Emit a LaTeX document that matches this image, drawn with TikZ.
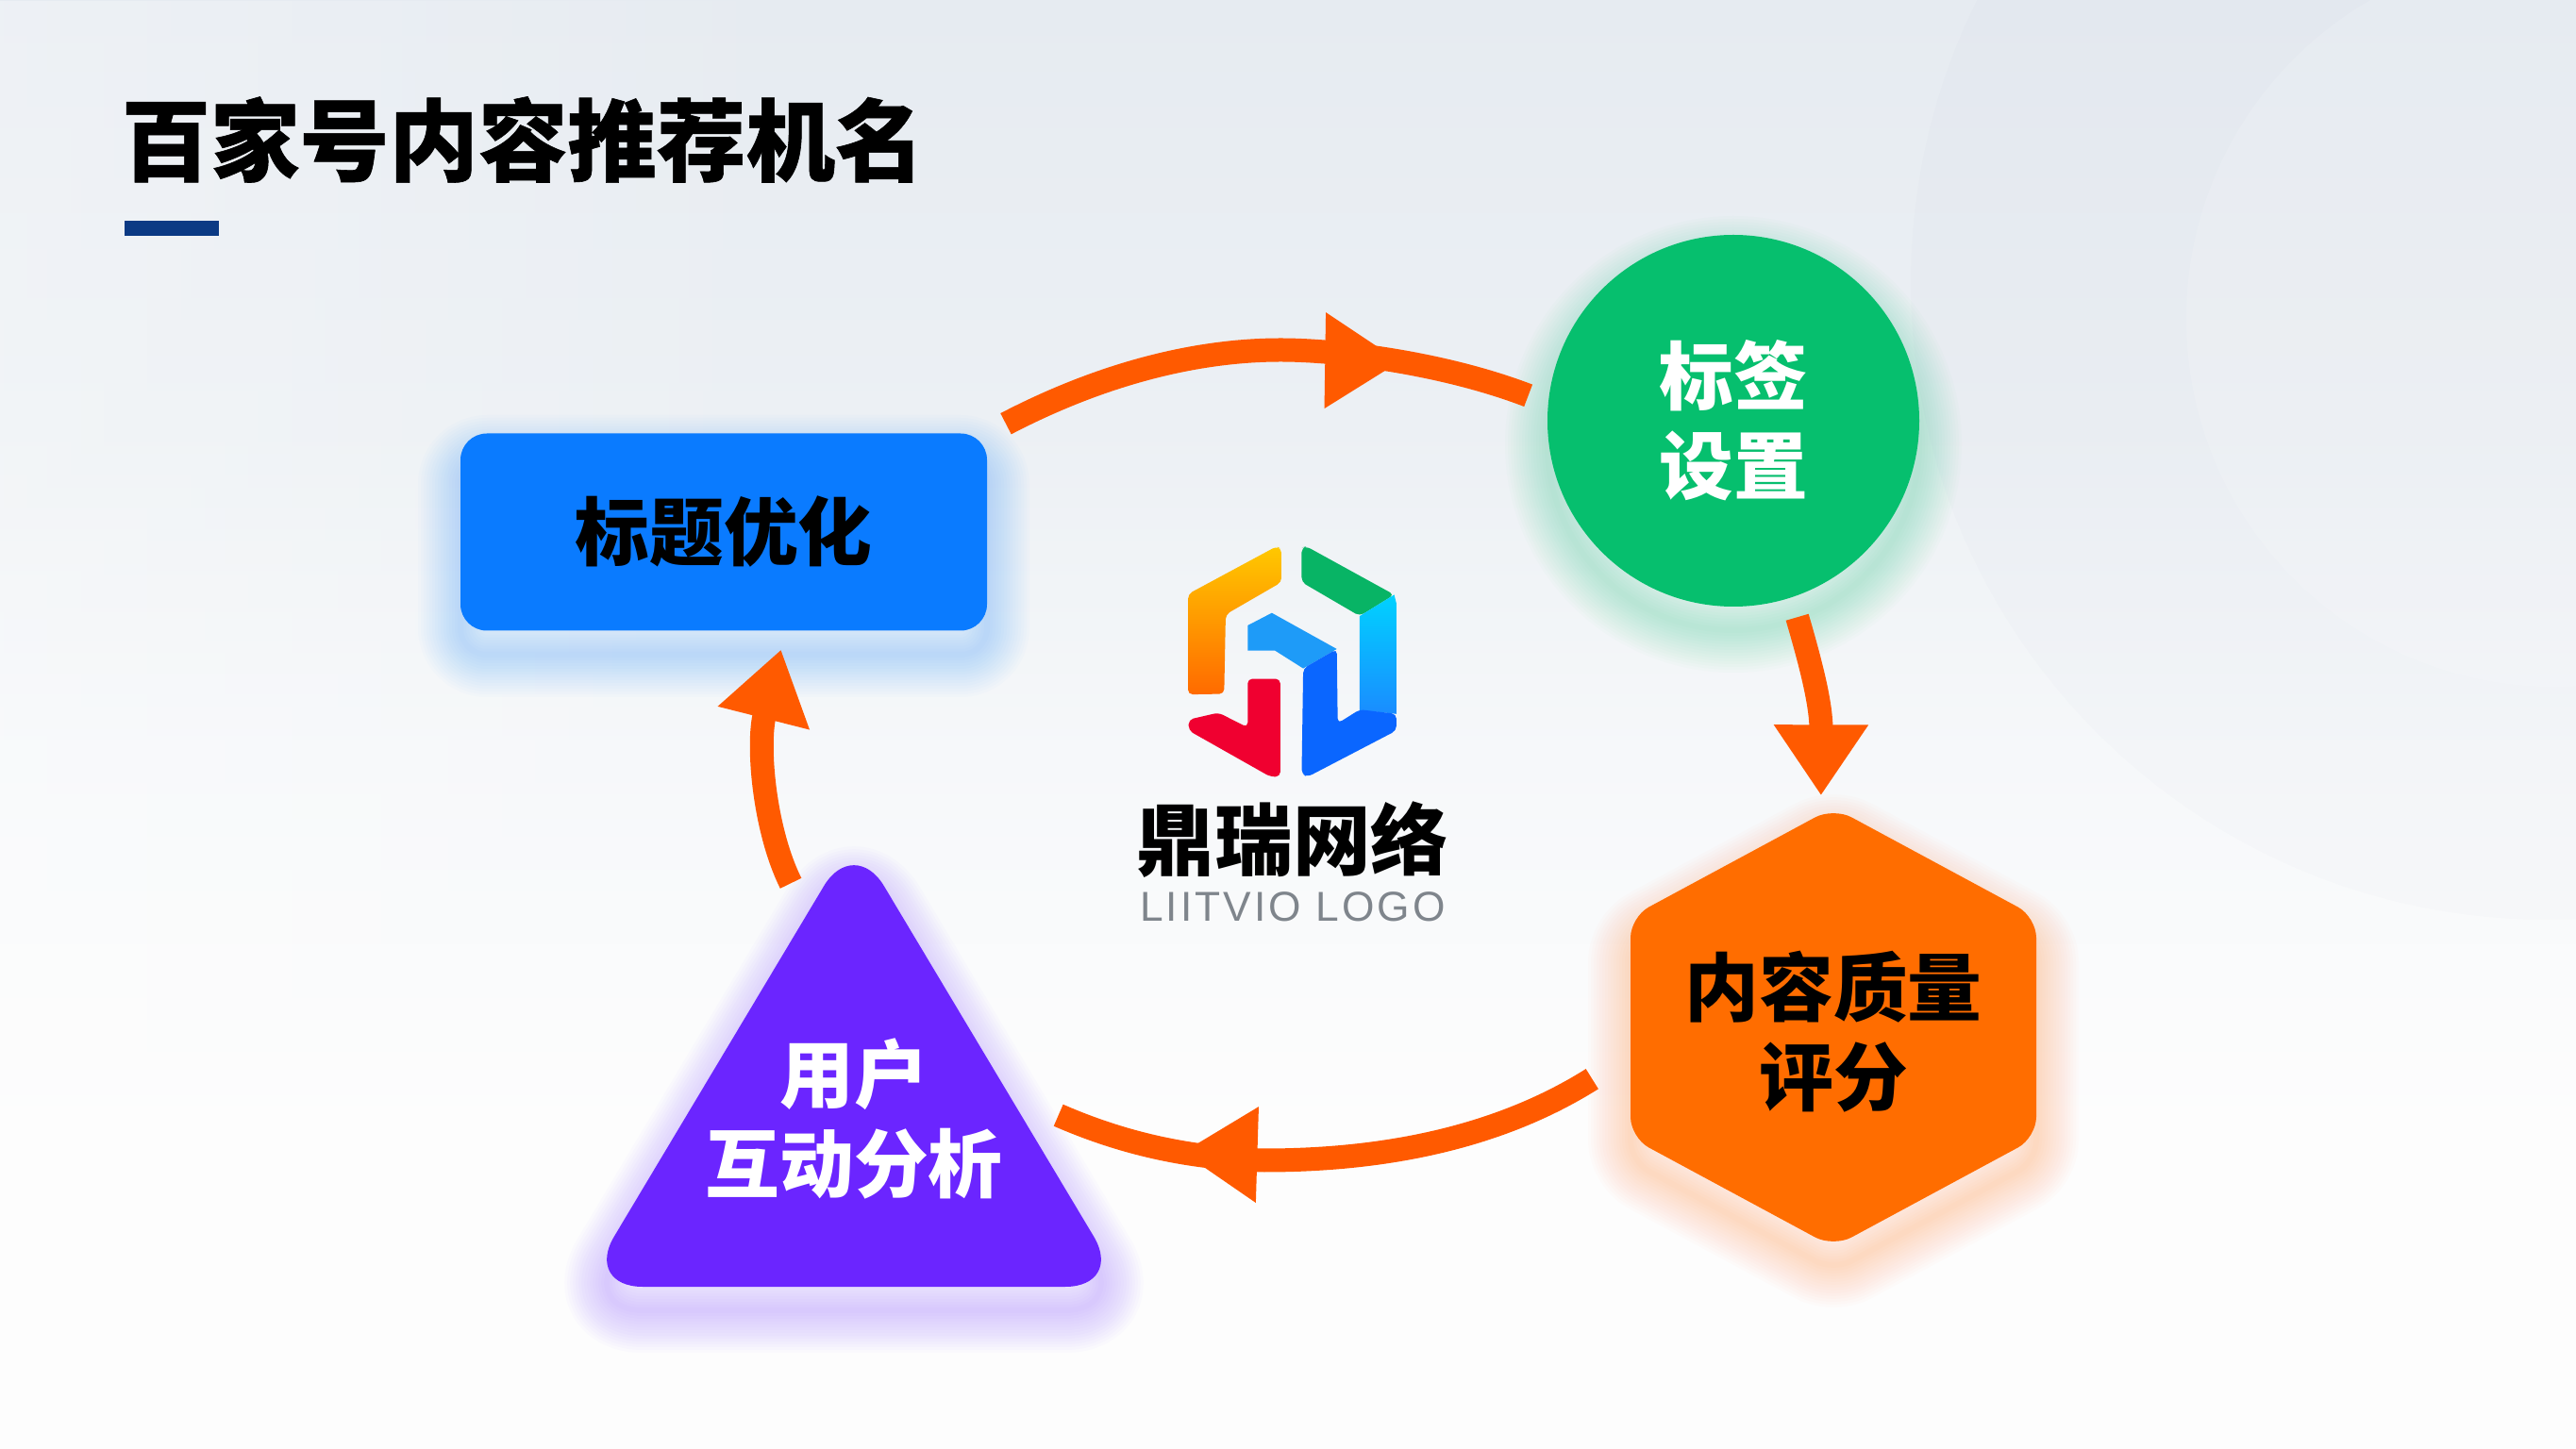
\documentclass[tikz,border=0pt]{standalone}
\usepackage{xcolor}
\usepackage{fontspec}
\usepackage{tikz}
\usetikzlibrary{shapes,arrows.meta,positioning,decorations.markings,fadings}
\setmainfont{Noto Sans CJK SC}
\newfontfamily\logolatin{Liberation Sans}[LetterSpace=7]
\definecolor{boxblue}{HTML}{0A7BFF}
\definecolor{tagggreen}{HTML}{06BF6E}
\definecolor{scoreorange}{HTML}{FF6D00}
\definecolor{userviolet}{HTML}{6B25FF}
\definecolor{flowred}{HTML}{FF5A00}
\definecolor{barnavy}{HTML}{0B3A84}
\definecolor{bgtop}{HTML}{E6EBF1}
\definecolor{bgupper}{HTML}{ECF0F4}
\definecolor{bgmid}{HTML}{F6F8FA}
\definecolor{bglow}{HTML}{FDFDFD}
\definecolor{logoyellow}{HTML}{FFC800}
\definecolor{logoorange}{HTML}{FF6A00}
\definecolor{logogreen}{HTML}{08B465}
\definecolor{logocyan}{HTML}{00D2FF}
\definecolor{logosky}{HTML}{1A8CFF}
\definecolor{logolight}{HTML}{1E9BF8}
\definecolor{logoblue}{HTML}{0A66FF}
\definecolor{logored}{HTML}{F00030}
\definecolor{logogray}{HTML}{7F858C}
\pgfdeclareverticalshading{pagebg}{100bp}{color(0bp)=(bglow); color(25bp)=(bglow); color(35.9bp)=(bglow); color(48.9bp)=(bgmid); color(60.3bp)=(bgupper); color(75bp)=(bgtop); color(100bp)=(bgtop)}
\newcommand{\glowpath}[2]{\foreach \w in {.06,.12,...,.9}{\draw[#1,opacity=.014,line width=\w cm,line join=round,yshift=-.25cm] #2;}}

\begin{document}
\begin{tikzpicture}[
    stagelabel/.style={font=\fontsize{22.4}{27}\selectfont\bfseries, align=center, inner sep=0pt},
    stagebox/.style={stagelabel, rectangle, fill=boxblue, rounded corners=.28cm, minimum width=5.58cm, minimum height=2.09cm, outer sep=.2cm},
    stagecircle/.style={stagelabel, circle, fill=tagggreen, text=white, minimum size=3.94cm, outer sep=.22cm},
    flow/.style={draw=flowred, line width=.25cm},
    flowhead/.style 2 args={postaction={decorate}, decoration={markings, mark=at position #1 with {\pgftransformrotate{#2}\arrow{Triangle[length=.8cm,width=.96cm]}}}},
    flowtip/.style={-{Triangle[length=.75cm,width=.95cm]}}
]
    \useasboundingbox (0,0) rectangle (27.3,15.35);
    % page background
    \fill[shading=pagebg] (0,0) rectangle (27.3,15.35);
    \fill[white, opacity=.3, path fading=east] (0,0) rectangle (9,15.35);
    \fill[black!60!blue, opacity=.012] (27,12.35) circle (6.75);
    \fill[white, opacity=.14] (27.07,11.97) circle (3.9);

    % title
    \node[font=\fontsize{26.9}{30}\selectfont\bfseries\addfontfeature{FakeBold=.6}, anchor=west, inner sep=0pt] (title) at (1.28,13.87) {百家号内容推荐机名};
    \fill[barnavy] (1.32,12.85) rectangle (2.32,13.01);

    % glows
    \glowpath{boxblue}{[rounded corners=.28cm] (4.88,8.66) rectangle (10.46,10.75)}
    \glowpath{tagggreen}{(18.37,10.89) circle (1.97)}
    \glowpath{scoreorange}{[rounded corners=.22cm] (19.43,6.79) -- (17.28,5.63) -- (17.28,3.29) -- (19.43,2.13) -- (21.58,3.29) -- (21.58,5.63) -- cycle}
    \glowpath{userviolet}{[rounded corners=.62cm] (9.05,6.49) -- (6.19,1.71) -- (11.91,1.71) -- cycle}

    % shapes
    \fill[scoreorange, rounded corners=.22cm] (19.43,6.79) -- (17.28,5.63) -- (17.28,3.29) -- (19.43,2.13) -- (21.58,3.29) -- (21.58,5.63) -- cycle;
    \fill[userviolet, rounded corners=.62cm] (9.05,6.49) -- (6.19,1.71) -- (11.91,1.71) -- cycle;

    % stages
    \node[stagebox] (optimize) at (7.67,9.71) {标题优化};
    \node[stagecircle] (tagging) at (18.37,10.89) {标签\\设置};
    \node[stagelabel, minimum width=5.1cm, minimum height=5cm] (scoring) at (19.43,4.41) {内容质量\\评分};
    \node[stagelabel, text=white, minimum width=4.32cm, minimum height=4.98cm] (interact) at (9.05,3.49) {用户\\互动分析};

    % flow
    \draw[flow, flowhead={.755}{9}] (optimize.21.1) .. controls (11.70,11.40) and (12.70,11.64) .. (13.57,11.64) .. controls (14.20,11.64) and (15.30,11.50) .. (tagging.173.2);
    \draw[flow, flowtip] (tagging.-72.9) .. controls (19.18,8.35) and (19.30,7.90) .. (scoring.93);
    \draw[flow, flowhead={.767}{8}] (scoring.191.3) .. controls (15.90,3.30) and (14.70,3.05) .. (13.40,3.05) .. controls (12.60,3.07) and (11.90,3.23) .. (interact.1.6);
    \draw[flow, flowtip] (interact.105.3) .. controls (8.10,6.55) and (8.02,7.45) .. (optimize.-64);

    % logo
    \begin{scope}[shift={(11.3,10.15)}, x=.003333cm, y=-.003333cm, rounded corners=.05cm]
        \shade[top color=logoyellow, bottom color=logoorange] (670,178) -- (686,186) -- (686,292) -- (508,395) -- (503,648) -- (388,650) -- (388,330) -- cycle;
        \fill[logogreen] (750,182) -- (765,178) -- (1045,332) -- (935,400) -- (750,292) -- cycle;
        \shade[sharp corners, top color=logocyan, bottom color=logosky] (935,400) -- (1045,332) -- (1052,360) -- (1052,712) -- (935,700) -- cycle;
        \fill[sharp corners, logolight] (578,430) -- (655,390) -- (862,505) -- (755,567) -- (665,510) -- (578,510) -- cycle;
        \fill[logoblue] (755,567) -- (862,505) -- (865,742) -- (935,698) -- (1052,712) -- (1052,765) -- (770,912) -- (750,905) -- cycle;
        \fill[logored] (578,600) -- (682,600) -- (682,912) -- (650,912) -- (390,765) -- (390,730) -- (485,708) -- (578,755) -- cycle;
    \end{scope}
    \node[font=\fontsize{23.5}{26}\selectfont\bfseries, inner sep=0pt] (brand) at (13.70,6.45) {鼎瑞网络};
    \node[font=\fontsize{12.6}{15}\logolatin, text=logogray, inner sep=0pt] (brandsub) at (13.70,5.74) {LIITVIO LOGO};
\end{tikzpicture}
\end{document}
